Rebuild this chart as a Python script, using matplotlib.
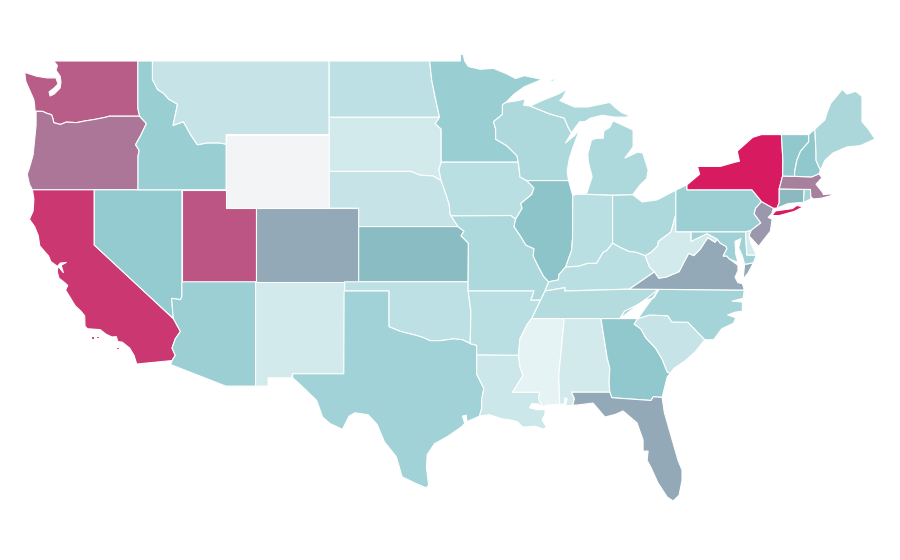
import matplotlib
matplotlib.use("Agg")
import matplotlib.pyplot as plt
from matplotlib.collections import PolyCollection
from matplotlib.colors import LinearSegmentedColormap, Normalize

# Values, 0-100
STATES = ["WA", "OR", "CA", "NV", "ID", "MT", "WY", "UT", "AZ", "NM", "CO", "ND", "SD", "NE", "KS", "OK", "TX",
          "MN", "IA", "MO", "AR", "LA", "WI", "IL", "MI", "IN", "OH", "KY", "TN", "MS", "AL", "GA", "FL", "SC",
          "NC", "VA", "WV", "MD", "DE", "PA", "NJ", "NY", "CT", "RI", "MA", "VT", "NH", "ME"]
VALUES = [74, 64, 89, 32, 30, 15, 0, 77, 29, 11, 44, 18, 11, 15, 36, 18, 27,
          30, 19, 23, 19, 13, 23, 34, 23, 19, 23, 19, 21, 5, 11, 33, 44, 15,
          26, 44, 11, 28, 11, 29, 51, 100, 38, 26, 60, 33, 33, 24]

COLOR_STOPS = [(0.0, "#f3f4f6"), (0.05, "#e4f3f4"), (0.32, "#92cbd0"), (0.36, "#89bdc3"), (1.0, "#d81b60")]

# Shared borders in lon/lat
COLUMBIA = [(-124.02, 46.27), (-123.5, 46.26), (-123.2, 46.15), (-122.9, 46.08), (-122.8, 45.85), (-122.75, 45.65),
            (-122.3, 45.55), (-121.9, 45.68), (-121.2, 45.65), (-120.65, 45.74), (-120.0, 45.82), (-119.3, 45.93),
            (-118.98, 46.0), (-116.92, 46.0)]
SNAKE = [(-116.92, 46.0), (-116.46, 45.6), (-116.67, 45.25), (-116.85, 44.95), (-117.2, 44.45), (-117.03, 44.25),
         (-116.95, 44.1), (-117.03, 43.85), (-117.03, 42.0)]
ID_MT = [(-116.05, 49.0), (-116.05, 48.0), (-115.7, 47.45), (-115.3, 47.25), (-114.95, 46.93), (-114.35, 46.65),
         (-114.65, 45.5), (-113.95, 45.7), (-113.45, 44.98), (-113.0, 44.45), (-112.3, 44.55), (-111.5, 44.55),
         (-111.05, 44.48)]
CA_NV = [(-120.0, 42.0), (-120.0, 39.0), (-114.63, 35.0)]
AZ_NV = [(-114.05, 37.0), (-114.05, 36.2), (-114.15, 36.03), (-114.75, 36.1), (-114.7, 35.6), (-114.63, 35.0)]
AZ_CA = [(-114.63, 35.0), (-114.15, 34.3), (-114.5, 33.9), (-114.72, 33.4), (-114.5, 33.0), (-114.72, 32.72)]
RED_RIVER = [(-100.0, 34.56), (-99.2, 34.3), (-98.2, 34.1), (-97.7, 33.98), (-97.2, 33.8), (-96.5, 33.8),
             (-95.6, 33.9), (-95.0, 33.85), (-94.48, 33.64)]
SABINE = [(-94.04, 31.99), (-93.55, 31.2), (-93.7, 30.6), (-93.7, 30.1), (-93.85, 29.7)]
RED_RIVER_N = [(-97.23, 49.0), (-97.1, 48.0), (-96.85, 47.0), (-96.56, 45.94)]
SD_MN = [(-96.56, 45.94), (-96.85, 45.6), (-96.45, 45.3), (-96.45, 43.5)]
SD_IA = [(-96.45, 43.5), (-96.6, 43.1), (-96.45, 42.5)]
SD_NE = [(-104.05, 43.0), (-98.5, 43.0), (-97.9, 42.8), (-97.0, 42.75), (-96.45, 42.5)]
NE_IA = [(-96.45, 42.5), (-96.1, 41.7), (-95.9, 41.2), (-95.85, 40.7), (-95.77, 40.58)]
NE_MO = [(-95.77, 40.58), (-95.31, 40.0)]
KS_MO = [(-95.31, 40.0), (-94.9, 39.75), (-95.1, 39.5), (-94.6, 39.1), (-94.62, 37.0)]
MN_WI = [(-92.05, 46.75), (-92.29, 46.62), (-92.29, 46.1), (-92.9, 45.7), (-92.75, 45.3), (-92.75, 44.75),
         (-92.0, 44.4), (-91.3, 43.85), (-91.22, 43.5)]
WI_IA = [(-91.22, 43.5), (-91.15, 43.1), (-91.1, 42.7), (-90.64, 42.5)]
IL_IA = [(-90.64, 42.5), (-90.15, 42.1), (-90.3, 41.75), (-91.05, 41.25), (-90.95, 41.0), (-91.4, 40.4)]
IA_MO = [(-91.4, 40.4), (-91.72, 40.6), (-95.77, 40.58)]
IL_MO = [(-91.4, 40.4), (-91.5, 40.0), (-91.0, 39.4), (-90.7, 39.0), (-90.15, 38.8), (-90.2, 38.4), (-89.9, 37.9),
         (-89.5, 37.3), (-89.15, 37.0)]
KY_MO = [(-89.15, 37.0), (-89.4, 36.5)]
TN_MO = [(-89.4, 36.5), (-89.7, 36.0)]
BOOTHEEL = [(-89.7, 36.0), (-90.37, 36.0), (-90.15, 36.5), (-94.62, 36.5)]
TN_AR = [(-89.7, 36.0), (-90.3, 35.0)]
MS_AR = [(-90.3, 35.0), (-90.6, 34.7), (-91.1, 33.9), (-91.2, 33.0)]
MS_LA = [(-91.2, 33.0), (-91.1, 32.4), (-90.9, 31.9), (-91.6, 31.0), (-89.75, 31.0), (-89.85, 30.65), (-89.55, 30.2)]
OHIO_IL = [(-87.53, 39.35), (-87.6, 38.7), (-88.0, 37.8)]
KY_IL = [(-88.0, 37.8), (-88.45, 37.4), (-88.5, 37.1), (-89.15, 37.0)]
KY_IN = [(-88.0, 37.8), (-87.1, 37.85), (-86.5, 38.0), (-85.9, 38.0), (-85.45, 38.6), (-85.2, 38.7), (-84.81, 39.1)]
KY_OH = [(-84.81, 39.1), (-84.25, 38.85), (-83.7, 38.65), (-83.2, 38.6), (-82.6, 38.42)]
OH_WV = [(-82.6, 38.42), (-82.2, 38.6), (-81.75, 38.95), (-81.7, 39.2), (-80.85, 39.7), (-80.52, 40.64)]
KY_WV = [(-82.6, 38.42), (-82.3, 37.8), (-81.97, 37.54)]
KY_VA = [(-81.97, 37.54), (-83.68, 36.6)]
VA_WV = [(-81.97, 37.54), (-81.67, 37.2), (-81.2, 37.25), (-80.3, 37.55), (-79.65, 38.55), (-79.3, 38.42),
         (-78.87, 38.77), (-78.35, 39.4), (-77.85, 39.15), (-77.72, 39.32)]
TN_NC = [(-81.68, 36.59), (-82.0, 36.13), (-82.6, 36.0), (-83.1, 35.75), (-84.0, 35.4), (-84.32, 35.0)]
SC_GA = [(-83.1, 35.0), (-83.35, 34.7), (-82.9, 34.45), (-82.55, 33.95), (-81.9, 33.4), (-81.45, 32.8),
         (-81.1, 32.1), (-80.9, 32.03)]
NC_SC = [(-83.1, 35.0), (-82.3, 35.2), (-81.05, 35.15), (-80.8, 34.82), (-79.7, 34.8), (-78.55, 33.85)]
GA_AL = [(-85.6, 35.0), (-85.18, 32.87), (-85.0, 32.3), (-85.05, 31.55), (-85.0, 31.0)]
GA_FL = [(-85.0, 31.0), (-84.86, 30.7), (-82.2, 30.55), (-82.05, 30.75), (-81.45, 30.72)]
AL_MS = [(-88.2, 35.0), (-88.1, 34.9), (-88.47, 31.9), (-88.4, 30.35)]
AL_FL = [(-85.0, 31.0), (-87.6, 31.0), (-87.4, 30.65), (-87.52, 30.3)]
VA_MD = [(-76.9, 38.25), (-77.05, 38.4), (-77.3, 38.4), (-77.05, 38.8), (-77.12, 38.93), (-77.5, 39.1),
         (-77.72, 39.32)]
MD_WV = [(-77.72, 39.32), (-78.4, 39.62), (-79.48, 39.2), (-79.48, 39.72)]
PA_NJ = [(-74.7, 41.36), (-75.1, 41.0), (-75.2, 40.7), (-74.75, 40.2), (-75.4, 39.8)]
NY_NJ = [(-74.7, 41.36), (-73.9, 41.0)]
NY_NE = [(-73.35, 45.0), (-73.25, 43.6), (-73.27, 42.75), (-73.5, 42.05), (-73.5, 41.3), (-73.65, 41.0)]
VT_NH = [(-71.5, 45.0), (-71.5, 44.6), (-72.05, 44.1), (-72.3, 43.6), (-72.45, 43.0), (-72.46, 42.73)]
NH_ME = [(-71.08, 45.3), (-71.0, 44.0), (-71.0, 43.6), (-70.7, 43.07)]
WI_UP = [(-90.4, 46.55), (-89.1, 46.13), (-88.1, 45.9), (-87.8, 45.35), (-87.6, 45.1)]

SHAPES = {
    "WA": [[(-122.76, 49.0), (-117.04, 49.0), (-117.04, 46.42), (-116.92, 46.0)] + COLUMBIA[::-1] +
           [(-124.05, 46.6), (-124.1, 46.9), (-124.35, 47.35), (-124.65, 47.9), (-124.72, 48.38), (-123.9, 48.17),
            (-123.2, 48.08), (-122.6, 48.08), (-122.46, 47.75), (-122.73, 47.53), (-123.07, 47.32), (-123.0, 47.1),
            (-122.73, 47.2), (-122.32, 47.53), (-122.26, 47.86), (-122.32, 48.18), (-122.6, 48.5), (-122.5, 48.75)]],
    "OR": [COLUMBIA + SNAKE[1:] + [(-120.0, 42.0), (-124.2, 42.0), (-124.4, 42.3), (-124.55, 42.85), (-124.4, 43.2),
                                   (-124.15, 43.9), (-124.05, 44.7), (-123.95, 45.5), (-123.95, 46.2)]],
    "CA": [CA_NV + AZ_CA[1:] +
           [(-117.12, 32.53), (-117.3, 33.0), (-117.6, 33.4), (-118.1, 33.72), (-118.4, 33.75), (-118.5, 34.02),
            (-118.8, 34.0), (-119.2, 34.15), (-119.6, 34.4), (-120.47, 34.45), (-120.63, 34.6), (-120.65, 35.15),
            (-120.9, 35.4), (-121.3, 35.7), (-121.6, 36.1), (-121.95, 36.55), (-121.8, 36.8), (-122.0, 36.95),
            (-122.4, 37.2), (-122.5, 37.5), (-122.5, 37.78), (-122.35, 37.75), (-122.1, 37.5), (-122.25, 37.9),
            (-121.9, 38.05), (-122.3, 38.02), (-122.5, 37.84), (-122.95, 38.1), (-123.1, 38.4), (-123.7, 38.95),
            (-123.8, 39.5), (-124.05, 40.0), (-124.4, 40.4), (-124.15, 40.85), (-124.1, 41.5), (-124.2, 42.0)],
           [(-120.2, 34.07), (-120.0, 34.07), (-120.0, 33.91), (-120.2, 33.91)],
           [(-119.85, 34.07), (-119.65, 34.07), (-119.65, 33.93), (-119.85, 33.93)],
           [(-118.55, 33.47), (-118.35, 33.47), (-118.35, 33.33), (-118.55, 33.33)]],
    "NV": [[(-120.0, 42.0), (-114.05, 42.0)] + AZ_NV + CA_NV[::-1][1:]],
    "ID": [[(-117.04, 49.0)] + ID_MT + [(-111.05, 42.0), (-117.03, 42.0)] + SNAKE[::-1][1:] + [(-117.04, 46.42)]],
    "MT": [ID_MT + [(-111.05, 45.0), (-104.05, 45.0), (-104.05, 49.0)]],
    "WY": [[(-111.05, 45.0), (-104.05, 45.0), (-104.05, 41.0), (-111.05, 41.0)]],
    "UT": [[(-114.05, 42.0), (-111.05, 42.0), (-111.05, 41.0), (-109.05, 41.0), (-109.05, 37.0), (-114.05, 37.0)]],
    "AZ": [AZ_NV + AZ_CA[1:] + [(-114.81, 32.5), (-111.07, 31.33), (-109.05, 31.33), (-109.05, 37.0)]],
    "NM": [[(-109.05, 37.0), (-103.0, 37.0), (-103.04, 32.0), (-106.53, 32.0), (-106.62, 31.78), (-108.2, 31.78),
            (-108.2, 31.33), (-109.05, 31.33)]],
    "CO": [[(-109.05, 41.0), (-102.05, 41.0), (-102.05, 37.0), (-109.05, 37.0)]],
    "ND": [[(-104.05, 49.0)] + RED_RIVER_N + [(-104.05, 45.94)]],
    "SD": [[(-104.05, 45.94)] + SD_MN + SD_IA[1:] + SD_NE[::-1][1:]],
    "NE": [SD_NE + NE_IA[1:] + NE_MO[1:] + [(-102.05, 40.0), (-102.05, 41.0), (-104.05, 41.0)]],
    "KS": [[(-102.05, 40.0)] + KS_MO + [(-102.05, 37.0)]],
    "OK": [[(-103.0, 37.0), (-94.62, 37.0), (-94.62, 36.5), (-94.43, 35.4)] + RED_RIVER[::-1] +
           [(-100.0, 36.5), (-103.0, 36.5)]],
    "TX": [[(-103.04, 36.5), (-100.0, 36.5)] + RED_RIVER + [(-94.04, 33.55), (-94.04, 33.02)] + SABINE +
           [(-94.7, 29.4), (-94.75, 29.75), (-95.0, 29.7), (-94.85, 29.3), (-95.1, 29.1), (-96.0, 28.6),
            (-96.9, 28.2), (-97.4, 27.6), (-97.45, 26.9), (-97.3, 25.96), (-97.45, 25.8), (-98.2, 26.05),
            (-99.1, 26.4), (-99.5, 27.5), (-100.3, 28.3), (-100.8, 29.25), (-101.4, 29.77), (-102.3, 29.88),
            (-102.7, 29.7), (-103.15, 28.98), (-104.0, 29.3), (-104.5, 29.65), (-104.9, 30.55), (-106.0, 31.4),
            (-106.53, 31.78), (-106.53, 32.0), (-103.06, 32.0)]],
    "MN": [RED_RIVER_N + SD_MN[1:] + [(-91.22, 43.5)] + MN_WI[::-1][1:] +
           [(-91.5, 47.2), (-90.8, 47.6), (-89.6, 48.0), (-90.8, 48.2), (-91.4, 48.05), (-92.0, 48.3),
            (-92.9, 48.6), (-93.8, 48.55), (-94.6, 48.7), (-94.85, 49.0), (-94.95, 49.35), (-95.15, 49.38),
            (-95.15, 49.0)]],
    "IA": [[(-96.45, 43.5)] + WI_IA + IL_IA[1:] + IA_MO[1:] + NE_IA[::-1][1:] + SD_IA[::-1][1:]],
    "MO": [IA_MO[::-1] + IL_MO[1:] + KY_MO[1:] + TN_MO[1:] + BOOTHEEL[1:] + KS_MO[::-1] + NE_MO[::-1][1:]],
    "AR": [BOOTHEEL[::-1] + TN_AR[1:] + MS_AR[1:] + [(-94.04, 33.02), (-94.04, 33.55), (-94.48, 33.64), (-94.43, 35.4)]],
    "LA": [MS_LA + [(-89.85, 30.35), (-90.3, 30.38), (-90.45, 30.15), (-89.95, 30.05), (-89.4, 30.05), (-89.4, 29.8),
                    (-89.6, 29.5), (-89.3, 29.1), (-89.5, 29.0), (-90.1, 29.15), (-90.9, 29.1), (-91.3, 29.4),
                    (-91.8, 29.5), (-92.3, 29.55), (-93.2, 29.78)] + SABINE[::-1] + [(-94.04, 33.02)]],
    "WI": [MN_WI + WI_IA[1:] + [(-87.8, 42.5), (-87.9, 43.0), (-87.75, 43.7), (-87.5, 44.3), (-87.05, 45.28),
                                (-87.4, 44.95), (-88.0, 44.55)] + WI_UP[::-1] +
           [(-90.85, 46.6), (-90.75, 46.95), (-91.2, 46.85)]],
    "IL": [[(-90.64, 42.5), (-87.8, 42.5), (-87.52, 41.7)] + OHIO_IL + KY_IL[1:] + IL_MO[::-1][1:] + IL_IA[::-1][1:]],
    "MI": [[(-86.8, 41.76), (-84.81, 41.7), (-83.45, 41.73), (-82.95, 42.26), (-82.5, 42.6), (-82.4, 43.08),
            (-82.76, 44.0), (-83.1, 44.05), (-83.97, 43.73), (-83.42, 44.33), (-83.42, 45.25), (-84.1, 45.5),
            (-84.78, 45.75), (-85.0, 45.4), (-85.4, 45.2), (-85.45, 44.8), (-85.9, 44.8), (-86.25, 44.7),
            (-86.5, 43.95), (-86.45, 43.5), (-86.2, 42.7), (-86.55, 41.85)],
           WI_UP + [(-87.05, 45.7), (-86.7, 45.7), (-86.3, 45.9), (-85.5, 46.05), (-84.7, 45.95), (-83.9, 45.95),
                    (-83.6, 46.0), (-84.2, 46.2), (-84.6, 46.45), (-85.0, 46.75), (-86.5, 46.5), (-87.4, 46.5),
                    (-88.4, 46.85), (-88.2, 47.0), (-87.9, 47.47), (-88.5, 47.2), (-89.6, 46.85)],
           [(-89.2, 47.87), (-88.55, 48.15), (-88.85, 47.9)]],
    "IN": [[(-87.52, 41.7), (-87.2, 41.76), (-86.8, 41.76), (-84.81, 41.7)] + KY_IN[::-1] + OHIO_IL[::-1]],
    "OH": [[(-84.81, 41.7), (-83.45, 41.73), (-82.8, 41.34), (-81.8, 41.45), (-80.52, 41.98)] + OH_WV[::-1] +
           KY_OH[::-1]],
    "KY": [KY_IL[::-1] + KY_IN + KY_OH[1:] + KY_WV[1:] + KY_VA[1:] +
           [(-88.07, 36.5), (-88.05, 36.68), (-89.4, 36.5)]],
    "TN": [[(-89.7, 36.0), (-89.4, 36.5), (-88.05, 36.68), (-88.07, 36.5), (-83.68, 36.6)] + TN_NC +
           [(-90.3, 35.0)]],
    "MS": [[(-90.3, 35.0)] + AL_MS + [(-89.3, 30.3)] + MS_LA[::-1] + MS_AR[::-1][1:]],
    "AL": [[(-88.2, 35.0)] + GA_AL + AL_FL[1:] +
           [(-88.0, 30.25), (-87.9, 30.65), (-88.05, 30.7), (-88.1, 30.35), (-88.4, 30.35)] + AL_MS[::-1][1:]],
    "GA": [[(-85.6, 35.0), (-84.32, 35.0)] + SC_GA + [(-81.1, 31.83), (-81.3, 31.2)] + GA_FL[::-1] + GA_AL[::-1][1:]],
    "FL": [GA_FL + [(-81.3, 29.9), (-80.9, 28.78), (-80.37, 27.3), (-80.1, 26.77), (-80.1, 26.2), (-80.3, 25.4),
                    (-80.7, 25.09), (-81.1, 25.3), (-81.73, 26.07), (-82.2, 26.9), (-82.47, 27.3), (-82.4, 27.8),
                    (-82.74, 27.8), (-82.74, 28.4), (-83.15, 29.33), (-84.1, 29.98), (-84.6, 29.8), (-85.33, 29.65),
                    (-86.14, 30.41), (-87.23, 30.3)] + AL_FL[::-1]],
    "SC": [NC_SC + [(-79.2, 33.2), (-79.9, 32.7), (-80.65, 32.3)] + SC_GA[::-1]],
    "NC": [TN_NC[::-1] + [(-83.1, 35.0)] + NC_SC[1:] +
           [(-77.95, 33.85), (-77.4, 34.45), (-76.6, 34.75), (-76.45, 35.05), (-77.0, 35.2), (-76.5, 35.35),
            (-76.0, 35.4), (-76.0, 35.9), (-76.7, 35.95), (-75.95, 36.1), (-75.87, 36.55), (-81.68, 36.59)]],
    "VA": [KY_VA[::-1] + VA_WV + VA_MD[::-1][1:] +
           [(-76.3, 37.9), (-76.3, 37.6), (-76.5, 37.25), (-76.3, 36.95), (-76.0, 36.9), (-75.87, 36.55),
            (-81.68, 36.59)],
           [(-75.95, 37.15), (-75.85, 37.95), (-75.25, 38.03), (-75.6, 37.5)]],
    "WV": [OH_WV + [(-80.52, 39.72), (-79.48, 39.72)] + MD_WV[::-1][1:] + VA_WV[::-1][1:] + KY_WV[::-1][1:]],
    "MD": [[(-79.48, 39.72), (-75.79, 39.72), (-75.7, 38.46), (-75.05, 38.45), (-75.25, 38.03), (-75.85, 37.95),
            (-76.0, 38.4), (-76.25, 38.85), (-76.1, 39.35), (-76.5, 39.2), (-76.45, 38.5), (-76.3, 38.05)] +
           VA_MD + MD_WV[1:]],
    "DE": [[(-75.79, 39.72), (-75.4, 39.8), (-75.55, 39.45), (-75.4, 39.05), (-75.05, 38.45), (-75.7, 38.46)]],
    "PA": [[(-80.52, 41.98), (-79.76, 42.27), (-79.76, 42.0), (-75.35, 42.0)] + PA_NJ + [(-75.79, 39.72),
                                                                                        (-80.52, 39.72)]],
    "NJ": [NY_NJ + [(-74.0, 40.7), (-74.25, 40.5), (-73.98, 40.4), (-74.1, 39.75), (-74.9, 38.93), (-75.55, 39.5)] +
           PA_NJ[::-1][:-1]],
    "NY": [[(-79.76, 42.27), (-78.9, 42.85), (-79.05, 43.27), (-77.5, 43.27), (-76.5, 43.5), (-76.2, 43.55),
            (-76.35, 44.1), (-75.3, 44.85), (-74.7, 45.0)] + NY_NE + [(-73.9, 41.0), (-74.7, 41.36), (-75.35, 42.0),
                                                                      (-79.76, 42.0)],
           [(-74.0, 40.6), (-73.75, 40.85), (-72.6, 40.98), (-72.3, 41.15), (-71.87, 41.07), (-72.5, 40.82),
            (-73.5, 40.6)]],
    "CT": [[(-73.5, 42.05), (-71.8, 42.02), (-71.85, 41.32), (-72.9, 41.25), (-73.65, 41.0), (-73.5, 41.3)]],
    "RI": [[(-71.8, 42.02), (-71.38, 42.02), (-71.35, 41.5), (-71.85, 41.32)]],
    "MA": [[(-73.5, 42.05), (-73.27, 42.75), (-72.46, 42.73), (-71.3, 42.7), (-70.8, 42.87), (-70.6, 42.65),
            (-71.0, 42.3), (-70.55, 41.85), (-70.5, 41.74), (-69.95, 41.78), (-70.0, 41.68), (-70.6, 41.55),
            (-71.15, 41.5), (-71.35, 41.6), (-71.38, 42.02), (-71.8, 42.02)]],
    "VT": [[(-73.35, 45.0)] + VT_NH + [(-73.27, 42.75), (-73.25, 43.6)]],
    "NH": [[(-71.5, 45.0), (-71.08, 45.3)] + NH_ME[1:] + [(-70.8, 42.87), (-71.3, 42.7)] + VT_NH[::-1][:-1]],
    "ME": [NH_ME + [(-70.4, 43.6), (-69.85, 44.0), (-68.9, 44.33), (-68.0, 44.4), (-67.0, 44.76), (-67.45, 45.3),
                    (-67.88, 45.7), (-67.88, 47.07), (-68.3, 47.35), (-68.9, 47.2), (-69.22, 47.46), (-70.0, 46.7),
                    (-70.25, 46.2), (-70.4, 45.8)]],
}

cmap = LinearSegmentedColormap.from_list("map_scale", COLOR_STOPS)

polys = []
poly_values = []
for state, value in zip(STATES, VALUES):
    for ring in SHAPES[state]:
        polys.append(ring)
        poly_values.append(value)

fig = plt.figure(figsize=(9, 5.6), dpi=100, facecolor="white")
ax = fig.add_axes([0, 0, 1, 1])
coll = PolyCollection(polys, array=poly_values, cmap=cmap, norm=Normalize(0, 100),
                      edgecolors="white", linewidths=0.8)
ax.add_collection(coll)

# Plain lon/lat stretch, no real map projection in the reference
ax.set_xlim(-126.4, -65.3)
ax.set_ylim(21.88, 52.315)
ax.axis("off")

fig.savefig("out.png", dpi=100)
